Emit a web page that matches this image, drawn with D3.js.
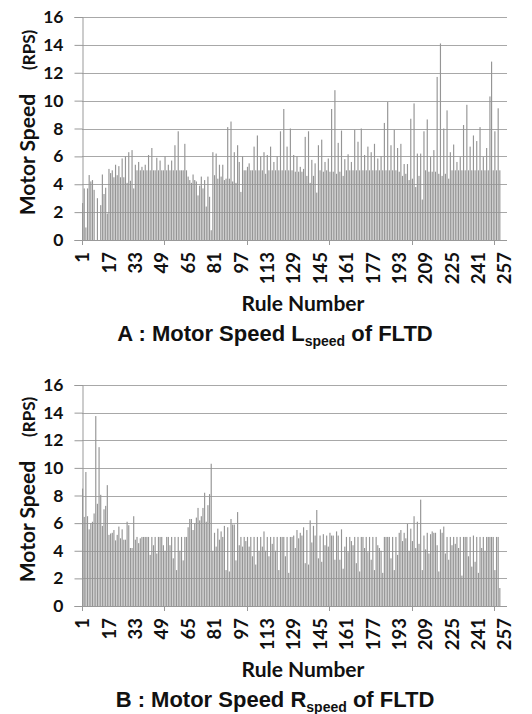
<!DOCTYPE html>
<html>
<head>
<meta charset="utf-8">
<script src="https://cdn.jsdelivr.net/npm/d3@7"></script>
<style>
  body { margin: 0; background: #fff; }
  text { fill: #111; }
</style>
</head>
<body>
<script>
'use strict';

// rule slots on the category axis (1..258), labels every 16th rule
const ruleNumbers = d3.range(1, 259);
const ruleLabels = [1, 17, 33, 49, 65, 81, 97, 113, 129, 145, 161, 177, 193, 209, 225, 241, 257];
const speedTicks = [0, 2, 4, 6, 8, 10, 12, 14, 16];

// motor speed L (RPS)
const speedL = [
  2.65, 3.7, 0.9, 3.7, 4.66, 4.2, 4.3, 3.6, 0, 3.0,
  0, 2.5, 4.7, 3.3, 3.75, 1.9, 5.1, 4.8, 5.0, 4.5,
  5.4, 4.65, 5.3, 4.5, 5.85, 4.5, 6.0, 4.1, 6.3, 4.25,
  6.45, 3.7, 5.4, 5.0, 5.6, 5.0, 5.25, 5.0,
  5.4, 5.0, 6.1, 5.0, 6.6, 5.0, 5.0, 5.9, 5.0, 5.7,
  5.0, 5.0, 6.0, 5.0, 5.4, 5.0, 5.7, 5.0, 6.8, 5.0,
  7.8, 5.0, 5.0, 5.0, 6.9, 5.0, 4.55, 4.3, 4.1, 4.7,
  4.3, 4.2, 3.2, 3.9, 4.55, 3.7, 4.3, 2.4, 4.55, 3.1,
  0.7, 6.3, 4.65, 6.2, 4.4, 5.4, 4.55, 5.4, 4.3, 4.4,
  8.1, 4.4, 8.5, 4.2, 6.3, 4.1, 6.8, 5.6, 3.45, 6.0,
  5.0, 5.0, 5.25, 5.5, 5.0, 5.0, 6.7, 5.0, 7.5, 5.0,
  6.0, 5.0,
  6.3, 4.75, 6.1, 5.0, 6.7, 5.0, 5.6, 5.0, 6.0, 5.0,
  7.8, 5.0, 9.4, 5.0, 6.7, 5.0, 8.0, 5.0, 6.1, 4.9,
  6.0, 4.9, 5.25, 4.9, 5.1, 7.4, 4.6, 7.8, 4.1, 5.75,
  4.6, 5.5, 3.4, 6.8, 5.0, 7.2, 4.9, 5.6, 5.0, 5.85,
  4.9, 9.4, 4.9, 10.75, 4.75, 6.97, 4.9, 7.85, 4.6, 5.8,
  5.0, 6.15, 5.0, 5.6, 5.0, 7.9, 5.0, 7.05, 5.0, 8.0,
  5.0, 6.1, 5.0, 6.7, 5.0, 6.3, 5.0, 6.9, 5.0, 5.85,
  5.0, 6.0, 5.0, 8.4, 5.0, 9.9, 5.0, 6.8, 5.0, 7.9,
  5.0, 6.6, 4.9, 6.9, 4.6, 5.45, 4.75, 5.45, 4.3, 8.7,
  4.4, 9.8, 3.8, 6.2, 4.6, 6.2, 2.9, 7.8, 5.0, 8.65,
  4.9, 5.95, 4.9, 6.45, 4.9, 11.7, 4.75, 14.1, 4.6, 8.0,
  4.75, 9.3, 4.4, 6.3, 5.0, 6.85, 5.0, 5.6, 5.0, 5.95,
  5.0, 8.25, 5.0, 9.7, 5.0, 6.7, 5.0, 7.5, 5.0, 7.1,
  5.0, 8.1, 5.0, 5.95, 5.0, 6.6, 5.0, 10.3, 12.8, 5.0,
  7.8, 5.0, 9.45, 5.0
];

// motor speed R (RPS)
const speedR = [
  8.5, 6.45, 9.7, 6.5, 5.55, 6.0, 6.1, 6.7, 13.75, 7.4,
  11.5, 8.05, 5.8, 7.0, 7.25, 8.75, 5.15, 5.25, 5.3, 5.5,
  4.75, 5.15, 5.75, 4.9, 5.55, 4.8, 4.8, 6.1, 5.85, 4.2,
  4.2, 6.5, 4.8, 5.0, 4.55, 4.9, 5.0, 5.0,
  5.0, 5.0, 5.0, 3.7, 5.0, 4.4, 5.0, 3.8, 5.0, 5.0,
  5.0, 4.4, 4.0, 5.0, 5.0, 4.4, 5.0, 3.45, 5.0, 2.6,
  5.0, 4.0, 5.0, 3.3, 5.0, 5.0,
  5.7, 6.3, 6.3, 5.5, 6.0, 6.4, 7.1, 6.2, 6.5, 7.1,
  8.2, 6.1, 7.3, 8.1, 10.3, 4.0, 5.3, 4.3, 5.6, 4.8,
  5.4, 5.0, 5.8, 2.6, 5.7, 2.5, 6.3, 5.9, 5.9, 3.3,
  6.8, 4.4, 5.0, 4.3, 5.0, 4.7, 5.0, 4.3, 5.0, 3.6,
  5.0, 3.0, 5.0, 4.0, 5.0, 4.3,
  5.4, 4.0, 5.0, 3.6, 5.0, 4.5, 5.0, 4.0, 5.0, 2.6,
  5.0, 5.0, 5.0, 3.6, 5.0, 2.4, 5.0, 5.0, 5.1, 4.2,
  5.5, 4.9, 5.3, 5.1, 5.7, 3.1, 5.5, 3.0, 6.2, 4.6,
  5.8, 5.1, 6.95, 3.45, 5.1, 3.2, 5.2, 4.4, 5.1, 4.3,
  5.3, 5.1, 5.1, 3.35, 5.4, 5.1, 3.35, 5.55, 2.7, 4.3,
  5.0, 3.9, 5.0, 4.7, 4.4, 5.0, 3.1, 5.0, 2.5, 5.0,
  5.0, 4.2, 5.0, 3.9, 5.0, 3.35, 5.0, 2.6, 5.0, 4.4,
  4.2, 4.0, 2.4, 5.0, 5.0, 5.0, 5.0, 3.45, 5.0, 2.6,
  5.0, 3.7, 5.3, 5.5, 4.7, 5.3, 4.9, 5.95, 4.0, 5.6,
  4.7, 6.5, 4.2, 6.1, 4.5, 7.7, 2.6, 5.1, 4.1, 5.3,
  3.8, 5.2, 5.4, 5.3, 5.3, 4.4, 2.5, 5.55, 5.3, 5.75,
  3.8, 5.0, 3.35, 5.0, 4.4, 5.0, 4.5, 5.0, 4.2, 5.0,
  2.2, 5.0, 5.0, 5.0, 3.6, 5.0, 2.85, 5.1, 3.2, 5.0,
  2.4, 5.0, 4.2, 5.0, 4.0, 5.0, 5.0, 5.0, 5.0, 5.0,
  2.6, 5.0, 5.0, 1.3
];

const width = 532, height = 714;
const left = 82, right = 507;

const panels = [
  { values: speedL, letter: 'A', side: 'L', top: 17, bottom: 240 },
  { values: speedR, letter: 'B', side: 'R', top: 385, bottom: 606 }
];

const svg = d3.select('body').append('svg')
  .attr('width', width)
  .attr('height', height);

const x = d3.scaleBand()
  .domain(ruleNumbers)
  .range([left, right])
  .paddingInner(0.3)
  .paddingOuter(0);

panels.forEach(p => drawPanel(p));

function drawPanel(p) {
  const g = svg.append('g');

  const y = d3.scaleLinear()
    .domain([0, 16])
    .range([p.bottom, p.top]);

  // horizontal gridlines
  g.append('g')
    .selectAll('line')
    .data(speedTicks.filter(t => t > 0))
    .enter()
    .append('line')
      .attr('x1', left)
      .attr('x2', right)
      .attr('y1', d => Math.round(y(d)) + 0.5)
      .attr('y2', d => Math.round(y(d)) + 0.5)
      .attr('stroke', '#a8a8a8')
      .attr('stroke-width', 1);

  // bars
  const rows = p.values.map((v, i) => ({ rule: ruleNumbers[i], speed: v }));
  g.append('g')
    .selectAll('rect')
    .data(rows)
    .enter()
    .append('rect')
      .attr('x', d => x(d.rule))
      .attr('width', x.bandwidth())
      .attr('y', d => y(d.speed))
      .attr('height', d => p.bottom - y(d.speed))
      .attr('fill', '#959595');

  // y axis with outward ticks
  const yAxis = g.append('g')
    .attr('transform', 'translate(' + (left + 0.5) + ',0)')
    .call(d3.axisLeft(y).tickValues(speedTicks).tickSize(8).tickPadding(11));
  yAxis.select('.domain').attr('stroke', '#999');
  yAxis.selectAll('.tick line').attr('stroke', '#999');
  yAxis.selectAll('.tick text')
    .style('font-family', 'Lato, sans-serif')
    .style('font-weight', 'bold')
    .style('font-size', '17.5px')
    .attr('fill', '#111');

  // x axis line + ticks every 50 rules
  g.append('line')
    .attr('x1', left)
    .attr('x2', right)
    .attr('y1', p.bottom + 0.5)
    .attr('y2', p.bottom + 0.5)
    .attr('stroke', '#999');

  const gap = x.step() - x.bandwidth();
  g.append('g')
    .selectAll('line')
    .data([1, 51, 101, 151, 201, 251])
    .enter()
    .append('line')
      .attr('x1', d => Math.round(x(d) - gap / 2) + 0.5)
      .attr('x2', d => Math.round(x(d) - gap / 2) + 0.5)
      .attr('y1', p.bottom)
      .attr('y2', p.bottom + 5)
      .attr('stroke', '#999');

  // rotated rule labels
  const xAxis = g.append('g')
    .attr('transform', 'translate(0,' + p.bottom + ')')
    .call(d3.axisBottom(x).tickValues(ruleLabels).tickSize(0));
  xAxis.select('.domain').remove();
  xAxis.selectAll('.tick text')
    .attr('transform', 'rotate(-90)')
    .attr('x', -12)
    .attr('y', 0)
    .attr('dy', '0.36em')
    .attr('text-anchor', 'end')
    .style('font-family', 'Lato, sans-serif')
    .style('font-weight', 'bold')
    .style('font-size', '18.5px')
    .attr('fill', '#111');

  // y axis title
  const cy = (p.top + p.bottom) / 2 - 6;
  const yt = g.append('text')
    .attr('transform', 'translate(35,' + cy + ') rotate(-90)')
    .attr('text-anchor', 'middle')
    .style('font-family', 'Lato, sans-serif')
    .style('font-weight', 'bold');
  yt.append('tspan').style('font-size', '21px').text('Motor Speed');
  yt.append('tspan').attr('dx', 24).style('font-size', '17px').text('(RPS)');

  // x axis title
  g.append('text')
    .attr('x', 303)
    .attr('y', p.bottom + 71)
    .attr('text-anchor', 'middle')
    .style('font-family', 'Lato, sans-serif')
    .style('font-weight', 'bold')
    .style('font-size', '21px')
    .text('Rule Number');

  // caption
  const cap = g.append('text')
    .attr('x', 275)
    .attr('y', p.bottom + 101)
    .attr('text-anchor', 'middle')
    .style('font-family', '"Liberation Sans", Arial, sans-serif')
    .style('font-weight', 'bold')
    .style('font-size', '22px');
  cap.append('tspan').text(p.letter + ' : Motor Speed ' + p.side);
  cap.append('tspan').attr('dy', 5).style('font-size', '14px').text('speed');
  cap.append('tspan').attr('dy', -5).text(' of FLTD');
}
</script>
</body>
</html>
